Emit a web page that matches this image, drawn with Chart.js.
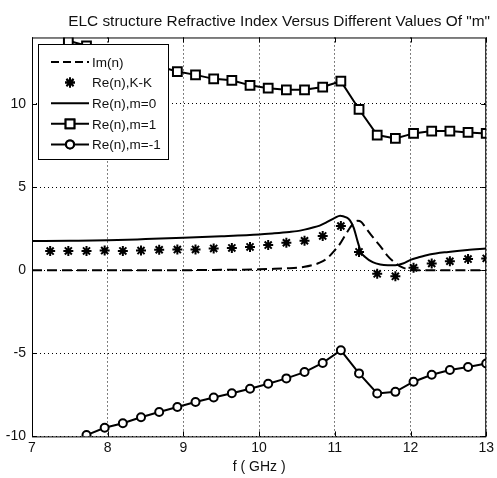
<!DOCTYPE html>
<html>
<head>
<meta charset="utf-8">
<script src="https://cdn.jsdelivr.net/npm/chart.js@4"></script>
<style>
  html, body { margin: 0; padding: 0; background: #fff; }
  #wrap { width: 497px; height: 478px; }
</style>
</head>
<body>
<div id="wrap"><canvas id="grafico"></canvas></div>
<script>
// frequencias com marcadores (passo de 0.24 GHz)
const freqMarks = [7.00, 7.24, 7.48, 7.72, 7.96, 8.20, 8.44, 8.68, 8.92, 9.16, 9.40, 9.64, 9.88,
  10.12, 10.36, 10.60, 10.84, 11.08, 11.32, 11.56, 11.80, 12.04, 12.28, 12.52, 12.76, 13.00];
const reKK = [null, 1.15, 1.16, 1.16, 1.18, 1.16, 1.18, 1.23, 1.24, 1.25, 1.31, 1.34, 1.40,
  1.51, 1.65, 1.77, 2.06, 2.66, 1.10, -0.22, -0.37, 0.14, 0.40, 0.54, 0.67, 0.71];
const reM1 = [null, null, 13.8, 13.5, 13.2, 12.85, 12.55, 12.25, 11.95, 11.75, 11.51, 11.42, 11.12,
  10.95, 10.85, 10.85, 11.02, 11.37, 9.68, 8.13, 7.93, 8.23, 8.37, 8.37, 8.29, 8.23];
const reMm1 = [null, null, null, -9.92, -9.48, -9.21, -8.85, -8.53, -8.23, -7.93, -7.66, -7.40, -7.13,
  -6.83, -6.51, -6.13, -5.58, -4.82, -6.21, -7.42, -7.32, -6.71, -6.29, -6.01, -5.82, -5.61];

// curvas continuas
const freqCurve = [7.0, 7.5, 8.0, 8.5, 9.0, 9.5, 10.0, 10.2, 10.4, 10.5, 10.6, 10.7, 10.8, 10.9, 11.0,
  11.07, 11.15, 11.2, 11.25, 11.3, 11.35, 11.4, 11.5, 11.6, 11.7, 11.8, 11.9, 12.0, 12.1, 12.25, 12.5, 12.75, 13.0];
const imN = [0, 0, 0, 0, 0, 0.02, 0.05, 0.08, 0.12, 0.15, 0.2, 0.3, 0.45, 0.72, 1.2,
  1.6, 2.2, 2.55, 2.85, 2.97, 2.9, 2.6, 2.0, 1.45, 0.85, 0.42, 0.15, 0.03, 0, 0, 0, 0, 0];
const reM0 = [1.75, 1.77, 1.80, 1.87, 1.95, 2.04, 2.15, 2.22, 2.30, 2.35, 2.44, 2.55, 2.68, 2.90, 3.15,
  3.28, 3.18, 3.00, 2.55, 1.75, 1.05, 0.8, 0.48, 0.34, 0.30, 0.30, 0.40, 0.62, 0.76, 0.94, 1.10, 1.22, 1.31];

const xTicks = [7, 8, 9, 10, 11, 12, 13];
const yTicks = [-10, -5, 0, 5, 10];
const legendLabels = ['Im(n)', 'Re(n),K-K', 'Re(n),m=0', 'Re(n),m=1', 'Re(n),m=-1'];

const fonte = '"Liberation Sans", Arial, sans-serif';
const pares = (xs, ys) => xs.map((x, i) => ({ x: x, y: ys[i] }));

// caixa dos eixos + ticks internos estilo matlab
const caixaEixos = {
  id: 'caixaEixos',
  afterDatasetsDraw(chart) {
    const { ctx, chartArea: a, scales } = chart;
    ctx.save();
    ctx.strokeStyle = '#000';
    ctx.lineWidth = 1;
    ctx.strokeRect(a.left + 0.5, a.top + 0.5, a.right - a.left - 1, a.bottom - a.top);
    ctx.beginPath();
    xTicks.forEach((v) => {
      const px = Math.round(scales.x.getPixelForValue(v)) + 0.5;
      ctx.moveTo(px, a.bottom); ctx.lineTo(px, a.bottom - 5);
      ctx.moveTo(px, a.top); ctx.lineTo(px, a.top + 5);
    });
    yTicks.forEach((v) => {
      const py = Math.round(scales.y.getPixelForValue(v)) + 0.5;
      ctx.moveTo(a.left, py); ctx.lineTo(a.left + 5, py);
      ctx.moveTo(a.right, py); ctx.lineTo(a.right - 5, py);
    });
    ctx.stroke();
    ctx.restore();
  }
};

// legenda dentro do grafico
const legendaInterna = {
  id: 'legendaInterna',
  afterDraw(chart) {
    const ctx = chart.ctx;
    const x0 = 38, y0 = 44, w = 130, h = 115;
    ctx.save();
    ctx.fillStyle = '#fff';
    ctx.fillRect(x0, y0, w, h);
    ctx.strokeStyle = '#000';
    ctx.lineWidth = 1;
    ctx.strokeRect(x0 + 0.5, y0 + 0.5, w, h);
    ctx.font = '13.5px ' + fonte;
    ctx.textBaseline = 'middle';
    legendLabels.forEach((txt, i) => {
      const yy = 62 + i * 20.6;
      const ds = chart.data.datasets[i];
      ctx.strokeStyle = '#000';
      ctx.lineWidth = 2;
      if (i !== 1) {
        ctx.setLineDash(i === 0 ? [8, 4] : []);
        ctx.beginPath();
        ctx.moveTo(51, yy); ctx.lineTo(89, yy);
        ctx.stroke();
        ctx.setLineDash([]);
      }
      if (ds.pointRadius > 0) {
        Chart.helpers.drawPoint(ctx, {
          pointStyle: ds.pointStyle, radius: ds.pointRadius, borderWidth: ds.pointBorderWidth
        }, 70, yy);
        ctx.fillStyle = ds.pointBackgroundColor;
        ctx.fill();
        ctx.stroke();
      }
      ctx.fillStyle = '#111';
      ctx.fillText(txt, 92, yy + 1);
    });
    ctx.restore();
  }
};

new Chart(document.getElementById('grafico'), {
  type: 'line',
  data: {
    datasets: [{
      label: legendLabels[0],
      data: pares(freqCurve, imN),
      borderColor: '#000',
      borderWidth: 2,
      borderDash: [10, 5],
      pointRadius: 0,
      cubicInterpolationMode: 'monotone'
    }, {
      label: legendLabels[1],
      data: pares(freqMarks, reKK),
      showLine: false,
      pointStyle: 'star',
      pointRadius: 5,
      pointBorderWidth: 2,
      borderColor: '#000',
      pointBackgroundColor: '#000'
    }, {
      label: legendLabels[2],
      data: pares(freqCurve, reM0),
      borderColor: '#000',
      borderWidth: 2,
      pointRadius: 0,
      cubicInterpolationMode: 'monotone'
    }, {
      label: legendLabels[3],
      data: pares(freqMarks, reM1),
      borderColor: '#000',
      borderWidth: 2,
      pointStyle: 'rect',
      pointRadius: 6.2,
      pointBorderWidth: 2,
      pointBackgroundColor: '#fff'
    }, {
      label: legendLabels[4],
      data: pares(freqMarks, reMm1),
      borderColor: '#000',
      borderWidth: 2,
      pointStyle: 'circle',
      pointRadius: 4,
      pointBorderWidth: 2,
      pointBackgroundColor: '#fff'
    }]
  },
  options: {
    responsive: true,
    maintainAspectRatio: false,
    animation: false,
    layout: { padding: { top: 0, right: 7, bottom: 2, left: 0 } },
    plugins: {
      legend: { display: false },
      tooltip: { enabled: false },
      title: {
        display: true,
        align: 'end',
        text: 'ELC structure Refractive Index Versus Different Values Of "m"',
        color: '#111',
        font: { family: fonte, size: 15.4, weight: 'normal' },
        padding: { top: 13, bottom: 6 }
      }
    },
    scales: {
      x: {
        type: 'linear',
        min: 7,
        max: 13,
        afterBuildTicks: (s) => { s.ticks = xTicks.map((v) => ({ value: v })); },
        ticks: { color: '#111', font: { family: fonte, size: 14 }, padding: 3 },
        grid: { color: '#000', lineWidth: 1, drawTicks: false },
        border: { display: false, dash: [1, 3] },
        title: { display: true, text: 'f ( GHz )', color: '#111', font: { family: fonte, size: 14 }, padding: { top: 0, bottom: 0 } }
      },
      y: {
        min: -10,
        max: 14,
        afterBuildTicks: (s) => { s.ticks = yTicks.map((v) => ({ value: v })); },
        afterFit: (s) => { s.width = 32; },
        ticks: { color: '#111', font: { family: fonte, size: 14 }, padding: 6 },
        grid: { color: '#000', lineWidth: 1, drawTicks: false },
        border: { display: false, dash: [1, 3] }
      }
    }
  },
  plugins: [caixaEixos, legendaInterna]
});
</script>
</body>
</html>
